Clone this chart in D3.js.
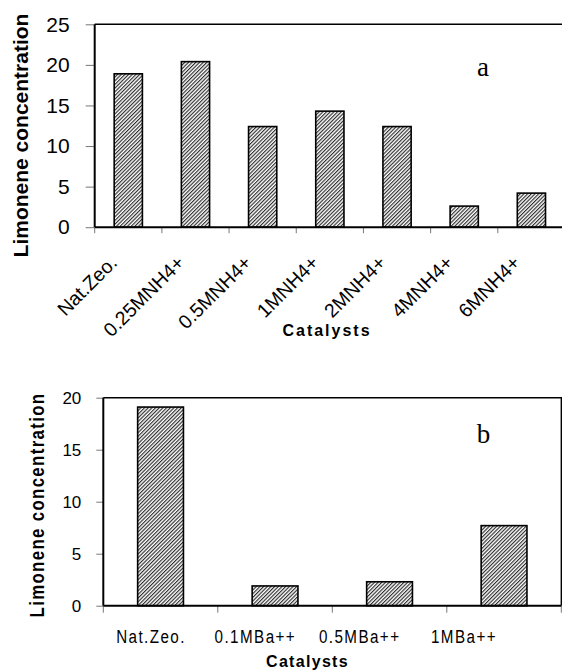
<!DOCTYPE html>
<html><head><meta charset="utf-8">
<script src="https://cdn.jsdelivr.net/npm/d3@7"></script>
<style>body{margin:0;background:#fff} svg{display:block;overflow:hidden}</style>
</head><body>
<svg id="fig" width="562" height="670"></svg>
<script>
// Panel a: NH4+ exchanged zeolites
const catsA = ["Nat.Zeo.", "0.25MNH4+", "0.5MNH4+", "1MNH4+", "2MNH4+", "4MNH4+", "6MNH4+"];
const valsA = [18.9, 20.4, 12.4, 14.3, 12.4, 2.6, 4.2];
const ticksA = [0, 5, 10, 15, 20, 25];
// Panel b: Ba++ exchanged zeolites
const catsB = ["Nat.Zeo.", "0.1MBa++", "0.5MBa++", "1MBa++"];
const valsB = [19.1, 1.9, 2.3, 7.7];
const ticksB = [0, 5, 10, 15, 20];

const yTitle = "Limonene concentration";
const xTitle = "Catalysts";

const svg = d3.select("#fig");

// diagonal hatch fill used by every bar
const defs = svg.append("defs");
const pat = defs.append("pattern")
  .attr("id", "hatch").attr("patternUnits", "userSpaceOnUse")
  .attr("width", 2.6).attr("height", 2.6)
  .attr("patternTransform", "rotate(45)");
pat.append("rect").attr("width", 2.6).attr("height", 2.6).attr("fill", "#fff");
pat.append("line").attr("x1", 0.6).attr("y1", 0).attr("x2", 0.6).attr("y2", 2.6)
  .attr("stroke", "#222").attr("stroke-width", 1.1);

function panel(o) {
  const g = svg.append("g");
  const x = d3.scaleBand().domain(o.cats).range([o.left, o.right]).paddingInner(0).paddingOuter(0);
  const y = d3.scaleLinear().domain([0, o.ymax]).range([o.bottom, o.top]);
  const bw = x.bandwidth();

  // plot frame (top and right)
  g.append("path")
    .attr("d", `M${o.left},${o.top}H${o.right}V${o.bottom}`)
    .attr("fill", "none").attr("stroke", "#000").attr("stroke-width", 1.4);

  // bars
  g.selectAll("rect.bar").data(o.vals).join("rect")
    .attr("class", "bar")
    .attr("x", (d, i) => x(o.cats[i]) + bw * (1 - o.barFrac) / 2)
    .attr("width", bw * o.barFrac)
    .attr("y", d => y(d))
    .attr("height", d => y(0) - y(d))
    .attr("fill", "url(#hatch)")
    .attr("stroke", "#000").attr("stroke-width", 1.6);

  // y axis
  const ya = d3.axisLeft(y).tickValues(o.yticks).tickSize(o.ytick).tickPadding(o.ypad);
  const yg = g.append("g").attr("transform", `translate(${o.left},0)`).call(ya);
  yg.select(".domain").remove();
  yg.selectAll(".tick line").attr("stroke", "#777").attr("stroke-width", 1);
  yg.selectAll(".tick text")
    .attr("font-family", "Liberation Sans, Arial, sans-serif")
    .attr("font-size", o.yfs).attr("fill", "#000");
  g.append("line").attr("x1", o.left).attr("x2", o.left).attr("y1", o.top).attr("y2", o.bottom)
    .attr("stroke", "#000").attr("stroke-width", 2);

  // x axis: ticks on category boundaries
  const bounds = o.cats.map(c => x(c)).concat([o.right]);
  g.selectAll("line.xt").data(bounds).join("line")
    .attr("class", "xt")
    .attr("x1", d => d).attr("x2", d => d)
    .attr("y1", o.bottom).attr("y2", o.bottom + o.xtick)
    .attr("stroke", "#777").attr("stroke-width", 1);
  g.append("line").attr("x1", o.left).attr("x2", o.right).attr("y1", o.bottom).attr("y2", o.bottom)
    .attr("stroke", "#000").attr("stroke-width", 2);

  o.xlabels(g, x, bw);

  // y axis title
  g.append("text")
    .attr("transform", `translate(${o.ytx},${o.yty}) rotate(-90) scale(${o.ytScale},1)`)
    .attr("text-anchor", "middle")
    .attr("font-family", "Liberation Sans, Arial, sans-serif")
    .attr("font-weight", "bold").attr("font-size", o.ytfs)
    .attr("letter-spacing", o.ytls)
    .text(yTitle);

  // x axis title
  g.append("text")
    .attr("x", o.xtx).attr("y", o.xty)
    .attr("text-anchor", "middle")
    .attr("font-family", "Liberation Sans, Arial, sans-serif")
    .attr("font-weight", "bold").attr("font-size", o.xtfs)
    .attr("letter-spacing", o.xtls)
    .text(xTitle);

  // panel letter
  g.append("text")
    .attr("x", o.lx).attr("y", o.ly)
    .attr("font-family", "Liberation Serif, Times New Roman, serif")
    .attr("font-size", 27)
    .text(o.letter);
}

panel({
  cats: catsA, vals: valsA, yticks: ticksA, ymax: 25,
  left: 94.7, right: 565, top: 24.3, bottom: 227.2, barFrac: 0.42,
  ytick: 9, ypad: 16, yfs: 21, xtick: 6,
  ytx: 28, yty: 135.5, ytfs: 21, ytls: 0, ytScale: 1,
  xtx: 327, xty: 336, xtfs: 16, xtls: 2,
  lx: 477, ly: 75.5, letter: "a",
  xlabels: (g, x, bw) => {
    g.selectAll("text.xl").data(catsA).join("text")
      .attr("class", "xl")
      .attr("transform", d => `translate(${x(d) + bw / 2 - 10},264) rotate(-45)`)
      .attr("text-anchor", "end")
      .attr("font-family", "Liberation Sans, Arial, sans-serif")
      .attr("font-size", 19.5)
      .text(d => d);
  }
});

// label centres for panel b sit slightly left of the bar centres
const xlabB = d3.scalePoint().domain(catsB).range([151, 464]);

panel({
  cats: catsB, vals: valsB, yticks: ticksB, ymax: 20,
  left: 103.3, right: 561.3, top: 397.7, bottom: 605.7, barFrac: 0.4,
  ytick: 7, ypad: 15, yfs: 17, xtick: 7,
  ytx: 44, yty: 505, ytfs: 21, ytls: 1.7, ytScale: 0.8,
  xtx: 307.5, xty: 667, xtfs: 16, xtls: 1.3,
  lx: 476.7, ly: 443, letter: "b",
  xlabels: (g) => {
    g.selectAll("text.xl").data(catsB).join("text")
      .attr("class", "xl")
      .attr("transform", d => `translate(${xlabB(d)},643) scale(0.8,1)`)
      .attr("text-anchor", "middle")
      .attr("font-family", "Liberation Sans, Arial, sans-serif")
      .attr("font-size", 19)
      .attr("letter-spacing", 1.8)
      .text(d => d);
  }
});
</script>
</body></html>
